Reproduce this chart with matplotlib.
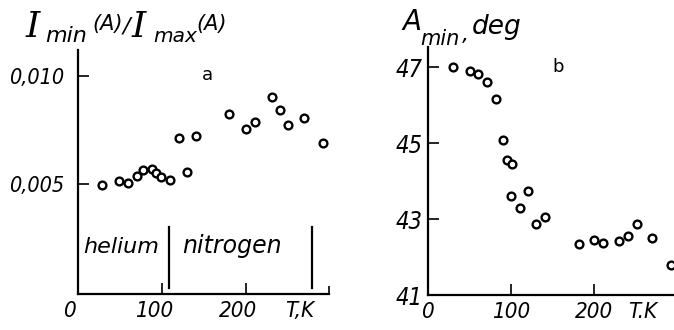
import matplotlib
matplotlib.use("Agg")
import matplotlib.pyplot as plt
from matplotlib import font_manager
from matplotlib.font_manager import FontProperties
from matplotlib.transforms import ScaledTranslation

# panel a: intensity ratio vs temperature
t_a = [29, 49, 60, 70, 77, 88, 93, 99, 110, 120, 130, 140, 180, 200, 211, 231, 240, 250, 269, 292]
ratio_a = [0.00495, 0.00515, 0.00506, 0.00538, 0.00565, 0.00571, 0.00552, 0.00534, 0.00520, 0.00713,
           0.00556, 0.00722, 0.00824, 0.00755, 0.00787, 0.00903, 0.00843, 0.00773, 0.00806, 0.00690]

# panel b: A_min vs temperature
t_b = [30, 51, 60, 71, 82, 90, 95, 101, 100, 111, 120, 130, 141, 182, 200, 210, 230, 241, 251, 270, 292]
amin_b = [47.0, 46.89, 46.82, 46.6, 46.16, 45.08, 44.55, 44.45, 43.6, 43.3, 43.74, 42.87, 43.05,
          42.34, 42.45, 42.37, 42.42, 42.55, 42.87, 42.5, 41.79]

xticks_a = [0, 100, 200, 264]
xticks_b = [0, 100, 200, 258]
xlabels_a = ['0', '100', '200', 'T,K']
xlabels_b = ['0', '100', '200', 'T.K']
yticks_a = [0.005, 0.010]
ylabels_a = ['0,005', '0,010']
yticks_b = [41, 43, 45, 47]
ylabels_b = ['41', '43', '45', '47']

# try a condensed oblique face for the ticks, like the scanned figure
cond = [f for f in font_manager.fontManager.ttflist
        if ('Condensed' in f.fname or 'Narrow' in f.fname) and ('Oblique' in f.fname or 'Italic' in f.fname)
        and 'Bold' not in f.fname]
if cond:
    tick_fp = FontProperties(fname=cond[0].fname)
else:
    tick_fp = FontProperties(family='DejaVu Sans', style='italic')

fig = plt.figure(figsize=(6.74, 3.30), dpi=100)
ax1 = fig.add_axes([78/674, 1 - 294/330, 251/674, 244/330])
ax2 = fig.add_axes([428/674, 1 - 295/330, 246/674, 248/330])

mk = dict(ls='none', marker='o', ms=5.6, mfc='white', mec='black', mew=1.7)
ax1.plot(t_a, ratio_a, **mk)
ax2.plot(t_b, amin_b, clip_on=False, **mk)

ax1.set_xlim(0, 298.8)
ax1.set_ylim(-0.00009, 0.0112)
ax2.set_xlim(0, 296)
ax2.set_ylim(41, 47.53)

for ax in (ax1, ax2):
    for s in ('top', 'right'):
        ax.spines[s].set_visible(False)
    for s in ('left', 'bottom'):
        ax.spines[s].set_linewidth(1.6)
    ax.tick_params(direction='in', length=8, width=1.2)

ax1.set_xticks(xticks_a)
ax2.set_xticks(xticks_b)
ax1.set_xticklabels(xlabels_a)
ax2.set_xticklabels(xlabels_b)
ax1.set_yticks(yticks_a)
ax1.set_yticklabels(ylabels_a)
ax2.set_yticks(yticks_b)
ax2.set_yticklabels(ylabels_b)
for ax in (ax1, ax2):
    ax.xaxis.get_major_ticks()[-1].tick1line.set_visible(False)
    ax.xaxis.get_major_ticks()[0].tick1line.set_visible(False)
ax2.yaxis.get_major_ticks()[0].tick1line.set_visible(False)
ax1.tick_params(axis='y', pad=10)
ax2.tick_params(axis='y', pad=4)
ax1.tick_params(axis='x', pad=5)
ax2.tick_params(axis='x', pad=5)

for ax, size_y in ((ax1, 15.5), (ax2, 17)):
    for lab in ax.get_xticklabels():
        lab.set_fontproperties(tick_fp)
        lab.set_fontsize(16)
    for lab in ax.get_yticklabels():
        lab.set_fontproperties(tick_fp)
        lab.set_fontsize(size_y)

# panel a number labels sit a bit left of their ticks
shift = ScaledTranslation(-8/100, 0, fig.dpi_scale_trans)
for lab in ax1.get_xticklabels()[:3]:
    lab.set_transform(lab.get_transform() + shift)

# small end mark on panel a x axis
ax1.set_xticks([298.8], minor=True)
ax1.tick_params(axis='x', which='minor', direction='in', length=6, width=1.2)

# helium / nitrogen ranges
ax1.plot([108, 108], [0.0002, 0.0030], color='black', lw=1.6)
ax1.plot([279, 279], [0.0002, 0.0030], color='black', lw=1.6)
ax1.text(6, 0.0018, 'helium', fontsize=16, style='italic', va='baseline')
ax1.text(124, 0.0018, 'nitrogen', fontsize=17, style='italic', va='baseline')

ax1.text(0.514, 0.898, 'a', transform=ax1.transAxes, fontsize=13, ha='center', va='center')
ax2.text(0.53, 0.92, 'b', transform=ax2.transAxes, fontsize=13, ha='center', va='center')


def put(x, y, s, size, family='DejaVu Sans'):
    # x, y in pixels from the top left, y is the baseline
    fig.text(x/674, 1 - y/330, s, fontsize=size, family=family, style='italic', va='baseline')


# y axis titles, built piece by piece (subscripts are large in the original)
put(26, 37, 'I', 26, 'DejaVu Serif')
put(45, 42, 'min', 16)
put(92, 30, '(A)', 15)
put(123, 33, '/', 16)
put(132, 37, 'I', 26, 'DejaVu Serif')
put(153, 42, 'max', 14.5)
put(196, 30, '(A)', 15)

put(402, 30, 'A', 20)
put(420, 45, 'min', 15)
put(462, 41, ',', 16)
put(472, 34, 'deg', 19)

fig.savefig('out.png', dpi=100)
